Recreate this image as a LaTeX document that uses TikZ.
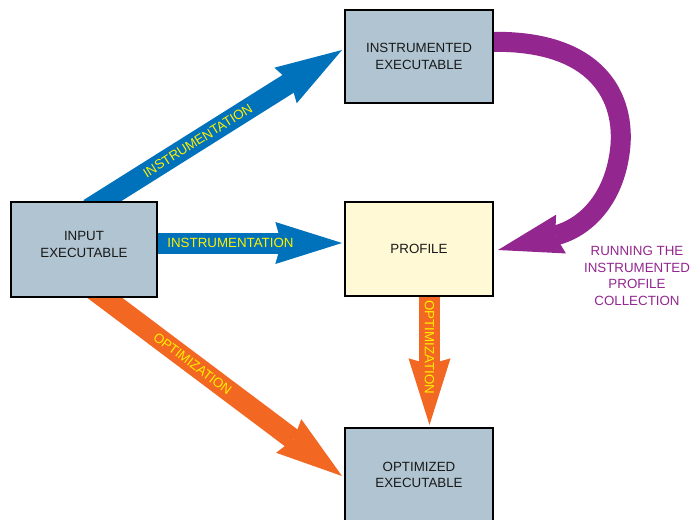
\documentclass[tikz,border=0pt]{standalone}
\usepackage{fontspec}
\setmainfont{Liberation Sans}
\usetikzlibrary{arrows.meta,backgrounds}
\definecolor{boxblue}{HTML}{B0C4D1}
\definecolor{profyellow}{HTML}{FFF9D5}
\definecolor{arrblue}{HTML}{0072BC}
\definecolor{arrorange}{HTML}{F26722}
\definecolor{arrpurple}{HTML}{93278F}
\definecolor{lbl}{HTML}{FFEF00}
\begin{document}
\begin{tikzpicture}[x=0.75pt,y=-0.75pt,
  box/.style={draw=black, line width=1.5pt, fill=boxblue, minimum width=111pt,
    minimum height=70pt, align=center, inner sep=0pt,
    font=\fontsize{10}{12.4}\selectfont, text=black!90},
  fat/.style={line width=15.75pt,
    -{Stealth[length=50pt, width=31.5pt, inset=4.5pt, line width=0pt]}},
  albl/.style={text=lbl, inner sep=0pt, font=\fontsize{10}{12}\selectfont}]
\useasboundingbox (0,0) rectangle (691,520);
% boxes
\node[box, minimum width=109.5pt, minimum height=71.25pt] (inp) at (84,249.5) {INPUT\\EXECUTABLE\\[-4.4pt]};
\node[box] (instr) at (419,56.5) {INSTRUMENTED\\EXECUTABLE};
\node[box, fill=profyellow] (prof) at (419,249) {PROFILE};
\node[box, minimum height=70.5pt] (opt) at (419,475) {OPTIMIZED\\EXECUTABLE};
% running label
\node[text=arrpurple, align=center, font=\fontsize{10}{12.5}\selectfont] (run) at (637,276)
  {RUNNING THE\\INSTRUMENTED\\PROFILE\\COLLECTION};
\begin{scope}[on background layer]
\fill[white] (0,0) rectangle (691,520);
% instrumentation diagonal
\draw[fat, arrblue] ([shift={(5,8)}]inp.north) -- ([shift={(-2,-6.5)}]instr.west)
  node[albl, pos=0.43, sloped] {INSTRUMENTATION};
% instrumentation horizontal
\draw[fat, arrblue] ([shift={(-5,-6.5)}]inp.east) -- ([shift={(-2,-6)}]prof.west)
  node[albl, pos=0.41] {INSTRUMENTATION};
% optimization diagonal
\draw[fat, arrorange] ([shift={(9,-9)}]inp.south) -- ([shift={(-2,1)}]opt.west)
  node[albl, pos=0.40, sloped] {OPTIMIZATION};
% optimization vertical
\draw[fat, arrorange] ([shift={(10.5,-6)}]prof.south) -- ([shift={(10.5,-2)}]opt.north)
  node[albl, pos=0.42, rotate=-90] {OPTIMIZATION};
% running (purple)
\draw[line width=15pt, arrpurple,
    -{Stealth[length=48.75pt, width=30pt, inset=4.5pt, line width=0pt]}]
  ([shift={(-8,-14.5)}]instr.east) .. controls (600,38) and (626,100) .. (620,150)
  .. controls (614,200) and (585,228) .. ([shift={(4,1)}]prof.east);
\end{scope}
\end{tikzpicture}
\end{document}
